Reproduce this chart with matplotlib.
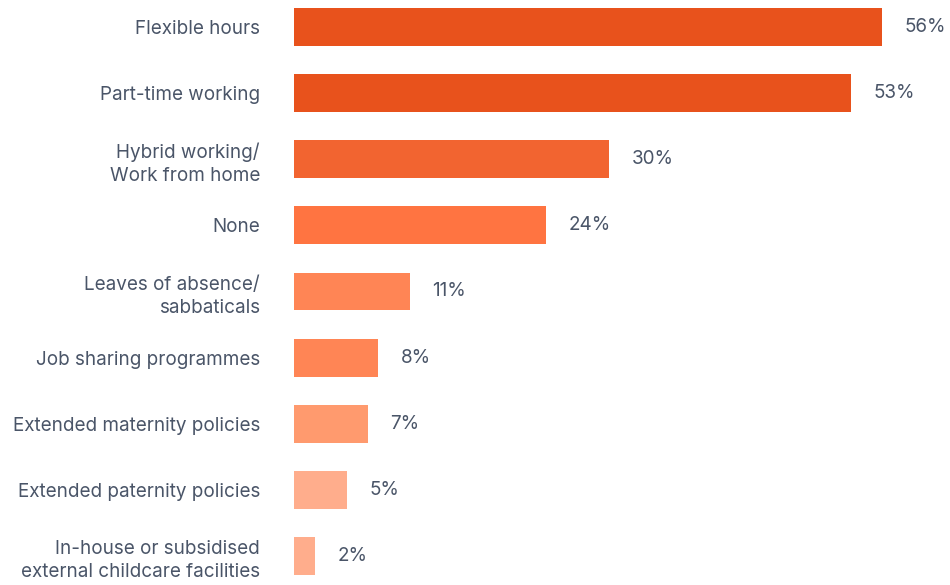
import matplotlib
matplotlib.use("Agg")
import matplotlib.pyplot as plt

categories = [
    "Flexible hours",
    "Part-time working",
    "Hybrid working/\nWork from home",
    "None",
    "Leaves of absence/\nsabbaticals",
    "Job sharing programmes",
    "Extended maternity policies",
    "Extended paternity policies",
    "In-house or subsidised\nexternal childcare facilities",
]
values = [56, 53, 30, 24, 11, 8, 7, 5, 2]
colors = ["#E8521C", "#E8521C", "#F26430", "#FF7441", "#FF8555",
          "#FF8555", "#FF9A6E", "#FFAD8C", "#FFAD8C"]

text_color = "#4A5568"
plt.rcParams["font.family"] = ["Inter", "DejaVu Sans"]

fig = plt.figure(figsize=(9.5, 5.85), dpi=100)
W, H = 950, 585
left_px = 294
ax = fig.add_axes([left_px / W, 9 / H, (W - left_px) / W, 569 / H])

y = list(range(len(categories)))
ax.barh(y, values, height=0.57, color=colors)
ax.set_ylim(8.3, -0.3)
ax.set_xlim(0, (W - left_px) / 10.5)

for yi, v in zip(y, values):
    ax.annotate(f"{v}%", (v, yi), xytext=(16.5, 0), textcoords="offset points",
                va="center", ha="left", fontsize=13.6, color=text_color)

ax.set_yticks(y)
ax.set_yticklabels(categories, fontsize=13.6, color=text_color, linespacing=1.38)
ax.tick_params(axis="y", length=0, pad=24.5)
ax.set_xticks([])
for s in ax.spines.values():
    s.set_visible(False)

fig.savefig("out.png", dpi=100, facecolor="white")
